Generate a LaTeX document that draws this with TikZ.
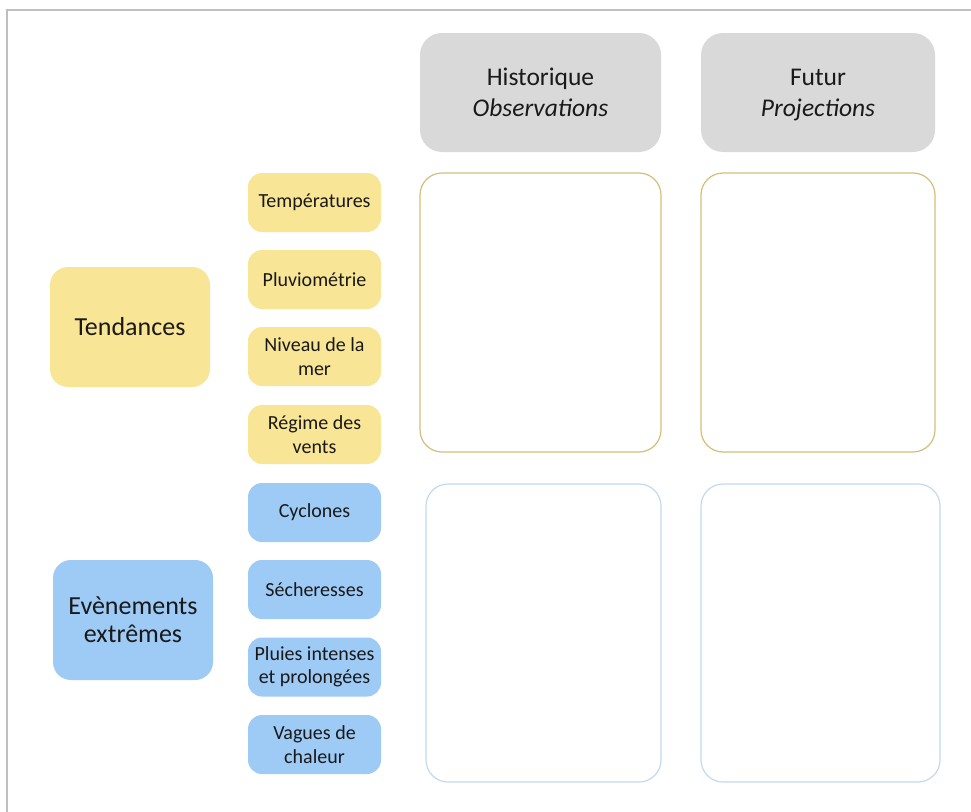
\documentclass[tikz,border=0pt]{standalone}
\usepackage{fontspec}
\setmainfont{Carlito}
\definecolor{hdrgray}{HTML}{D9D9D9}
\definecolor{yfill}{HTML}{F8E596}
\definecolor{bfill}{HTML}{9ECAF6}
\definecolor{yline}{HTML}{D2BE78}
\definecolor{bline}{HTML}{C2D9EE}
\definecolor{frameline}{HTML}{BFBFBF}
\begin{document}
\begin{tikzpicture}[x=1pt,y=-1pt,
  box/.style={rectangle, inner sep=0pt, align=center, text=black!90},
  hdr/.style={box, fill=hdrgray, rounded corners=22pt, minimum width=#1, minimum height=119pt,
    font=\fontsize{25.5}{31}\selectfont},
  bigy/.style={box, fill=yfill, rounded corners=18pt, minimum width=160pt, minimum height=120pt,
    font=\fontsize{26}{28}\selectfont},
  bigb/.style={box, fill=bfill, rounded corners=18pt, minimum width=160pt, minimum height=120pt,
    font=\fontsize{26}{28}\selectfont},
  smy/.style={box, fill=yfill, rounded corners=14pt, minimum width=133pt, minimum height=59pt,
    font=\fontsize{20}{23.5}\selectfont},
  smb/.style={box, fill=bfill, rounded corners=14pt, minimum width=133pt, minimum height=59pt,
    font=\fontsize{20}{23.5}\selectfont},
  framey/.style={box, draw=yline, line width=1.2pt, rounded corners=22pt},
  frameb/.style={box, draw=bline, line width=1.2pt, rounded corners=22pt},
]
\useasboundingbox (0,0) rectangle (971,811);
\draw[frameline, line width=2.2pt] (7,820) -- (7,10) -- (980,10);

% headers
\node[hdr=241pt] (hist) at (540.5,92.5) {Historique\\\textit{Observations}};
\node[hdr=234pt] (fut) at (818,92.5) {Futur\\\textit{Pro\smash{j}ections}};

% frames
\node[framey, minimum width=241pt, minimum height=279pt] (fy1) at (540.5,312.5) {};
\node[framey, minimum width=234pt, minimum height=279pt] (fy2) at (818,312.5) {};
\node[frameb, minimum width=235pt, minimum height=298pt] (fb1) at (543.5,633) {};
\node[frameb, minimum width=239pt, minimum height=298pt] (fb2) at (820.5,633) {};

% big category boxes
\node[bigy] (tend) at (130,327) {Tendances};
\node[bigb] (evt) at (133,620) {Evènements\\extrêmes};

% small yellow boxes
\node[smy] (temp) at (314.5,202.5) {Températures};
\node[smy] (pluv) at (314.5,279.5) {Pluviométrie};
\node[smy] (mer) at (314.5,356.5) {Niveau de la\\mer};
\node[smy] (vent) at (314.5,434.5) {Régime des\\vents};

% small blue boxes
\node[smb] (cycl) at (314.5,512.5) {Cyclones};
\node[smb] (sech) at (314.5,589.5) {Sécheresses};
\node[smb] (pluie) at (314.5,667) {Pluies intenses\\et prolongées};
\node[smb] (chal) at (314.5,744.5) {Vagues de\\chaleur};
\end{tikzpicture}
\end{document}
